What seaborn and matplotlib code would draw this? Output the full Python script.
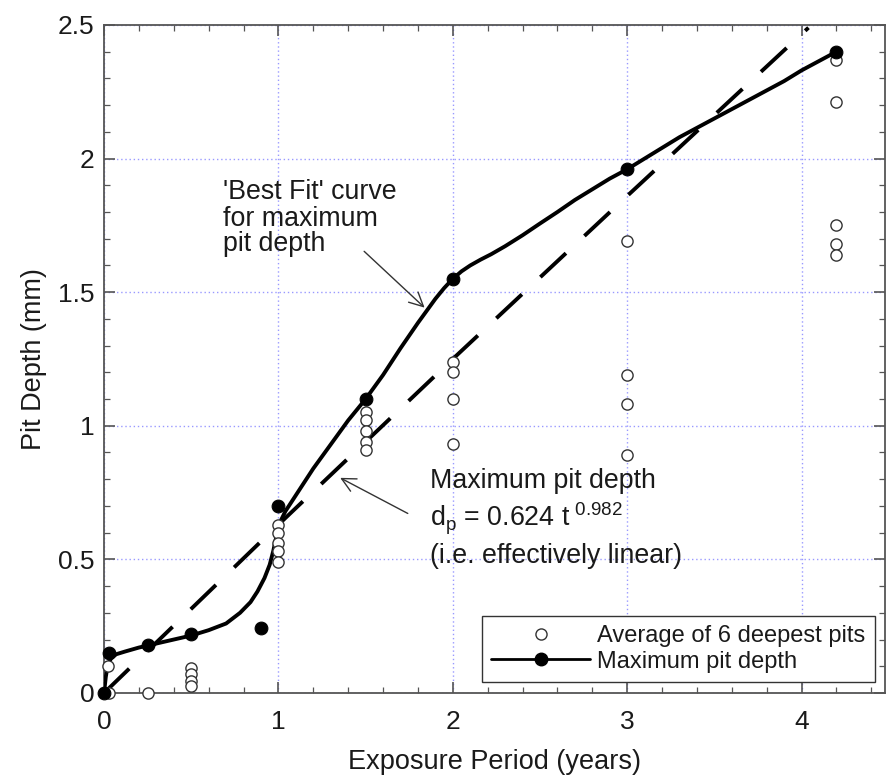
import matplotlib
matplotlib.use("Agg")
import matplotlib.pyplot as plt
from matplotlib.lines import Line2D
from matplotlib.ticker import MultipleLocator
import seaborn as sns
import pandas as pd

# ---- data ----
avg_x = [0.03, 0.02, 0.25, 0.5, 0.5, 0.5, 0.5,
         1.0, 1.0, 1.0, 1.0, 1.0,
         1.5, 1.5, 1.5, 1.5, 1.5,
         2.0, 2.0, 2.0, 2.0,
         3.0, 3.0, 3.0, 3.0,
         4.2, 4.2, 4.2, 4.2, 4.2]
avg_y = [0.0, 0.10, 0.0, 0.095, 0.07, 0.045, 0.025,
         0.63, 0.60, 0.56, 0.53, 0.49,
         1.05, 1.02, 0.98, 0.94, 0.91,
         1.24, 1.20, 1.10, 0.93,
         1.69, 1.19, 1.08, 0.89,
         2.37, 2.21, 1.75, 1.68, 1.64]

max_x = [0, 0.03, 0.25, 0.5, 0.9, 1.0, 1.5, 2.0, 3.0, 4.2]
max_y = [0, 0.15, 0.18, 0.22, 0.245, 0.70, 1.10, 1.55, 1.96, 2.40]

# 'best fit' curve
fit_x = [0, 0.01, 0.02, 0.04, 0.07, 0.12, 0.2, 0.3, 0.4, 0.5, 0.6, 0.7,
         0.78, 0.84, 0.88, 0.92, 0.95, 0.97, 0.99, 1.01, 1.04, 1.1, 1.2,
         1.3, 1.4, 1.5, 1.6, 1.7, 1.8, 1.85, 1.9, 1.95, 2.0, 2.05, 2.1,
         2.16, 2.22, 2.3, 2.4, 2.5, 2.6, 2.7, 2.8, 2.9, 3.0, 3.15, 3.3, 3.5,
         3.7, 3.9, 4.0, 4.1, 4.2]
fit_y = [0, 0.06, 0.10, 0.13, 0.145, 0.155, 0.17, 0.185, 0.20, 0.215, 0.235,
         0.26, 0.30, 0.34, 0.38, 0.43, 0.48, 0.53, 0.59, 0.64, 0.68, 0.74,
         0.84, 0.93, 1.02, 1.10, 1.19, 1.29, 1.385, 1.43, 1.475, 1.515, 1.55,
         1.578, 1.60, 1.622, 1.642, 1.672, 1.713, 1.757, 1.80, 1.845, 1.885,
         1.925, 1.96, 2.02, 2.08, 2.15, 2.22, 2.29, 2.33, 2.365, 2.40]

lin_x = [0, 1, 2, 3, 4.04]
lin_y = [0, 0.63, 1.25, 1.86, 2.49]

x_ticks = [0, 1, 2, 3, 4]
y_ticks = [0, 0.5, 1, 1.5, 2, 2.5]
y_tick_labels = ["0", "0.5", "1", "1.5", "2", "2.5"]

# ---- style ----
sns.set_theme(style="ticks")
plt.rcParams['font.family'] = ['Liberation Sans', 'DejaVu Sans']
plt.rcParams['mathtext.fontset'] = 'custom'
plt.rcParams['mathtext.rm'] = 'Liberation Sans'

TXT = "#1a1a1a"
fig = plt.figure(figsize=(8.87, 7.76), dpi=100)
ax = fig.add_axes([0.1173, 0.107, 0.8807, 0.8608])

df_avg = pd.DataFrame({"t": avg_x, "d": avg_y})
df_max = pd.DataFrame({"t": max_x, "d": max_y})
df_fit = pd.DataFrame({"t": fit_x, "d": fit_y})
df_lin = pd.DataFrame({"t": lin_x, "d": lin_y})

sns.lineplot(data=df_lin, x="t", y="d", ax=ax, color="black", lw=2.8,
             sort=False, zorder=3, linestyle=(0, (9, 6.5)))
sns.lineplot(data=df_fit, x="t", y="d", ax=ax, color="black", lw=2.8,
             sort=False, zorder=4, solid_joinstyle="round")
sns.scatterplot(data=df_avg, x="t", y="d", ax=ax, marker="o", s=65,
                facecolor="white", edgecolor="#333333", linewidth=1.0,
                zorder=5, clip_on=False)
sns.scatterplot(data=df_max, x="t", y="d", ax=ax, marker="o", s=85,
                color="black", edgecolor="black", zorder=6, clip_on=False)

ax.set_xlim(0, 4.48)
ax.set_ylim(0, 2.5)
ax.set_xticks(x_ticks)
ax.set_xticklabels([str(v) for v in x_ticks])
ax.set_yticks(y_ticks)
ax.set_yticklabels(y_tick_labels)
ax.xaxis.set_minor_locator(MultipleLocator(0.2))
ax.yaxis.set_minor_locator(MultipleLocator(0.1))
ax.tick_params(which="both", direction="in", top=True, right=True,
               labelsize=19, color="#555555", labelcolor=TXT)
ax.tick_params(which="major", length=8, width=1.2, pad=7)
ax.tick_params(axis="x", which="major", pad=12)
ax.tick_params(which="minor", length=4, width=0.9)
for sp in ax.spines.values():
    sp.set_color("#555555")
    sp.set_linewidth(1.3)

ax.grid(True, which="major", color="#9999ff", linestyle=(0, (1, 2)), lw=1.0)
ax.set_axisbelow(True)

ax.set_xlabel("Exposure Period (years)", fontsize=19.5, labelpad=11, color=TXT)
ax.set_ylabel("Pit Depth (mm)", fontsize=19.5, labelpad=8, color=TXT)

# annotations
FS = 19.3
for txt, yb in [("'Best Fit' curve", 1.848), ("for maximum", 1.747),
                ("pit depth", 1.655)]:
    ax.text(0.68, yb, txt, fontsize=FS, ha="left", va="baseline", color=TXT)
ax.annotate("", xy=(1.85, 1.435), xytext=(1.48, 1.66),
            arrowprops=dict(arrowstyle="->", color="#333333", lw=1.0,
                            mutation_scale=25))
ax.text(1.87, 0.768, "Maximum pit depth", fontsize=FS, ha="left",
        va="baseline", color=TXT)
ax.text(1.87, 0.622, r"d$_\mathregular{p}$ = 0.624 t$^{\mathregular{\ 0.982}}$",
        fontsize=FS, ha="left", va="baseline", color=TXT)
ax.text(1.87, 0.485, "(i.e. effectively linear)", fontsize=FS, ha="left",
        va="baseline", color=TXT)
ax.annotate("", xy=(1.34, 0.81), xytext=(1.756, 0.667),
            arrowprops=dict(arrowstyle="->", color="#333333", lw=1.0,
                            mutation_scale=25))

handles = [
    Line2D([], [], marker="o", linestyle="none", markerfacecolor="white",
           markeredgecolor="#333333", markersize=8, markeredgewidth=1.0),
    Line2D([], [], marker="o", color="black", lw=2.0, markersize=9),
]
leg = ax.legend(handles, ["Average of 6 deepest pits", "Maximum pit depth"],
                loc="lower right", bbox_to_anchor=(0.987, 0.0165),
                borderaxespad=0, fontsize=17, frameon=True, fancybox=False,
                framealpha=1, edgecolor="#333333", handlelength=4.2,
                handletextpad=0.3, borderpad=0.4, labelspacing=0.15,
                labelcolor=TXT)
leg.get_frame().set_linewidth(1.0)

fig.savefig("out.png", dpi=100)
